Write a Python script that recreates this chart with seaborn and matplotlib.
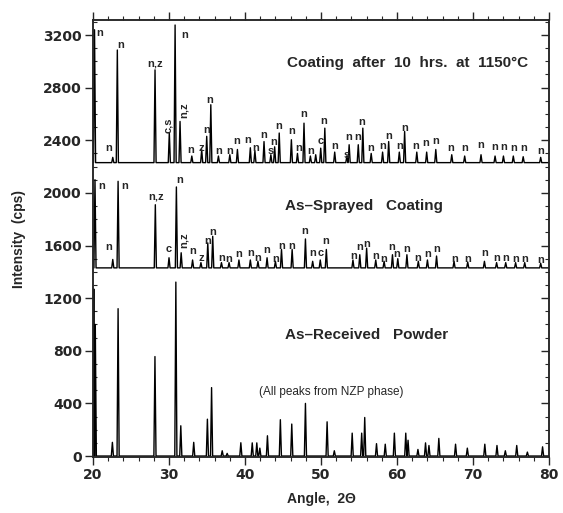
import matplotlib

matplotlib.use("Agg")

import matplotlib.pyplot as plt
import numpy as np
import pandas as pd
import seaborn as sns
from matplotlib.ticker import MultipleLocator

# --- peak tables (angle in deg 2-theta, height in cps) ---
coat_base = 2230
coat_pos = [20.2, 22.6, 23.2, 28.16, 30.04, 30.8, 31.45, 33.0, 34.3, 34.96, 35.5,
            36.5, 38.0, 39.0, 40.7, 41.3, 42.5, 43.4, 43.9, 44.5, 46.1, 46.9,
            47.76, 48.6, 49.3, 49.96, 50.5, 51.8, 53.4, 53.7, 54.9, 55.5, 56.6,
            58.1, 58.9, 60.3, 61.0, 62.6, 63.9, 65.1, 67.2, 68.9, 71.05, 72.9,
            74.0, 75.3, 76.6, 78.9]
coat_h = [1010, 40, 856, 705, 227, 1046, 313, 50, 98, 200, 440,
          50, 60, 100, 113, 90, 160, 60, 120, 225, 174, 70,
          300, 50, 60, 110, 262, 80, 50, 136, 136, 262, 70,
          80, 160, 80, 237, 80, 80, 100, 60, 50, 60, 50,
          50, 50, 45, 40]

spray_base = 1430
spray_pos = [20.26, 22.6, 23.3, 28.2, 30.0, 30.97, 31.6, 33.1, 34.2, 35.1, 35.75,
             36.9, 37.9, 39.2, 40.7, 41.7, 42.9, 44.0, 44.8, 46.2, 47.95, 48.9,
             49.9, 50.7, 54.2, 55.1, 56.0, 57.2, 58.3, 59.4, 60.1, 61.3, 62.8,
             64.0, 65.2, 67.5, 69.3, 71.5, 73.1, 74.3, 75.6, 76.8, 78.9]
spray_h = [670, 64, 658, 480, 77, 615, 115, 60, 40, 190, 240,
           40, 40, 60, 60, 50, 77, 50, 140, 140, 220, 50,
           60, 140, 60, 100, 150, 60, 50, 100, 70, 100, 50,
           60, 90, 50, 45, 50, 40, 40, 40, 40, 35]

powd_base = 0
powd_pos = [20.1, 20.3, 22.55, 23.3, 28.15, 30.9, 31.55, 33.25, 35.05, 35.6,
            37.0, 37.65, 39.45, 40.95, 41.55, 41.95, 42.95, 44.65, 46.15, 47.95,
            50.8, 51.75, 54.1, 55.35, 55.75, 57.3, 58.45, 59.65, 61.15, 61.45,
            62.75, 63.75, 64.2, 65.5, 67.7, 69.25, 71.55, 73.15, 74.25, 75.75,
            77.15, 79.15]
powd_h = [1270, 1000, 104, 1120, 756, 1322, 230, 104, 280, 520,
          40, 20, 101, 100, 100, 60, 154, 276, 243, 400,
          260, 40, 174, 174, 293, 94, 90, 174, 174, 120,
          50, 100, 80, 134, 90, 60, 90, 80, 40, 80,
          30, 70]

# phase labels (angle, cps, text, rotation)
coat_lbl_x = [20.9, 22.0, 23.7, 28.2, 29.9, 32.0, 32.0, 32.9, 34.2, 35.0, 35.4,
              36.5, 38.0, 38.9, 40.4, 41.4, 42.5, 43.4, 43.8, 44.4, 46.1, 47.0,
              47.7, 48.7, 49.96, 50.4, 51.75, 53.4, 53.6, 54.8, 55.4, 56.6, 58.1,
              58.9, 60.3, 61.0, 62.5, 63.8, 65.1, 67.1, 68.9, 71.05, 72.8, 74.0,
              75.3, 76.6, 78.9]
coat_lbl_y = [3213, 2341, 3124, 2985, 2517, 3200, 2631, 2328, 2341, 2480, 2707,
              2320, 2320, 2391, 2404, 2341, 2442, 2318, 2383, 2505, 2467, 2341,
              2599, 2318, 2391, 2543, 2360, 2290, 2421, 2421, 2537, 2341, 2360,
              2430, 2355, 2492, 2355, 2380, 2398, 2341, 2341, 2366, 2350, 2350,
              2341, 2341, 2318]
coat_lbl_txt = ["n", "n", "n", "n,z", "c,s", "n", "n,z", "n", "z", "n", "n",
                "n", "n", "n", "n", "n", "n", "s", "n", "n", "n", "n",
                "n", "n", "c", "n", "n", "s", "n", "n", "n", "n", "n",
                "n", "n", "n", "n", "n", "n", "n", "n", "n", "n", "n",
                "n", "n", "n"]
coat_lbl_rot = [0] * len(coat_lbl_txt)
coat_lbl_rot[4] = 90
coat_lbl_rot[6] = 90

spray_lbl_x = [21.2, 22.1, 24.2, 28.25, 30.0, 31.45, 31.9, 33.1, 34.2, 35.1, 35.75,
               36.9, 37.9, 39.15, 40.7, 41.7, 42.9, 44.0, 44.8, 46.2, 47.9, 48.9,
               49.9, 50.65, 54.25, 55.05, 56.0, 57.2, 58.3, 59.3, 59.96, 61.3,
               62.7, 64.0, 65.2, 67.55, 69.3, 71.5, 73.1, 74.3, 75.6, 76.8, 78.9]
spray_lbl_y = [2050, 1590, 2050, 1969, 1575, 2095, 1640, 1557, 1507, 1633, 1701,
               1507, 1500, 1532, 1545, 1507, 1565, 1494, 1600, 1600, 1709, 1540,
               1540, 1633, 1519, 1590, 1615, 1519, 1500, 1590, 1532, 1575,
               1507, 1532, 1575, 1500, 1500, 1540, 1507, 1507, 1500, 1500, 1490]
spray_lbl_txt = ["n", "n", "n", "n,z", "c", "n", "n,z", "n", "z", "n", "n",
                 "n", "n", "n", "n", "n", "n", "n", "n", "n", "n", "n",
                 "c", "n", "n", "n", "n", "n", "n", "n", "n", "n",
                 "n", "n", "n", "n", "n", "n", "n", "n", "n", "n", "n"]
spray_lbl_rot = [0] * len(spray_lbl_txt)
spray_lbl_rot[6] = 90

PEAK_HALF_WIDTH = 0.14


def pattern_frame(name, base, pos, heights):
    # triangle-shaped spikes on a flat baseline
    xs, ys = [20.0], [base]
    for p, h in zip(pos, heights):
        xs += [p - PEAK_HALF_WIDTH, p, p + PEAK_HALF_WIDTH]
        ys += [base, base + h, base]
    xs.append(80.0)
    ys.append(base)
    return pd.DataFrame({"angle": xs, "intensity": ys, "pattern": name})


df = pd.concat([
    pattern_frame("coating", coat_base, coat_pos, coat_h),
    pattern_frame("sprayed", spray_base, spray_pos, spray_h),
    pattern_frame("powder", powd_base, powd_pos, powd_h),
], ignore_index=True)

sns.set_style("ticks")
plt.rcParams["font.family"] = ["Liberation Sans", "DejaVu Sans"]

fig = plt.figure(figsize=(5.63, 5.13), dpi=100)
ax = fig.add_axes([0.1652, 0.109, 0.81, 0.852])

for name, sub in df.groupby("pattern", sort=False):
    sns.lineplot(data=sub, x="angle", y="intensity", color="black",
                 linewidth=1.0, estimator=None, sort=True, ax=ax)

for xs, ys, ts, rs in [(coat_lbl_x, coat_lbl_y, coat_lbl_txt, coat_lbl_rot),
                       (spray_lbl_x, spray_lbl_y, spray_lbl_txt, spray_lbl_rot)]:
    for x, y, t, r in zip(xs, ys, ts, rs):
        ax.text(x, y, t, ha="center", va="center", rotation=r,
                fontsize=8, fontweight="bold")

ax.text(61.4, 2990, "Coating  after  10  hrs.  at  1150°C", ha="center",
        va="center", fontsize=11, fontweight="bold")
ax.text(55.7, 1900, "As\u2013Sprayed   Coating", ha="center", va="center",
        fontsize=11, fontweight="bold")
ax.text(56.0, 920, "As\u2013Received   Powder", ha="center", va="center",
        fontsize=11, fontweight="bold")
ax.text(51.3, 490, "(All peaks from NZP phase)", ha="center", va="center",
        fontsize=8.5)

ax.set_xlim(20, 80)
ax.set_ylim(-8, 3314)
ax.xaxis.set_major_locator(MultipleLocator(10))
ax.xaxis.set_minor_locator(MultipleLocator(2))
ax.yaxis.set_major_locator(MultipleLocator(400))
ax.yaxis.set_minor_locator(MultipleLocator(100))

ax.tick_params(axis="x", which="major", direction="out", length=6, width=1,
               top=True, labelsize=10, pad=2)
ax.tick_params(axis="x", which="minor", direction="out", length=3, width=0.8,
               top=True)
ax.tick_params(axis="y", which="major", direction="out", length=6, width=1,
               labelsize=10, pad=2)
ax.tick_params(axis="y", which="minor", direction="in", length=3, width=0.8)
for lab in ax.get_xticklabels() + ax.get_yticklabels():
    lab.set_fontweight("bold")
    lab.set_family("DejaVu Sans")

# right-hand ticks point inward
axr = ax.twinx()
axr.set_ylim(ax.get_ylim())
axr.yaxis.set_major_locator(MultipleLocator(400))
axr.yaxis.set_minor_locator(MultipleLocator(100))
axr.tick_params(axis="y", which="major", direction="in", length=6, width=1,
                labelright=False)
axr.tick_params(axis="y", which="minor", direction="in", length=3, width=0.8)

for spine in list(ax.spines.values()) + list(axr.spines.values()):
    spine.set_linewidth(1.1)
    spine.set_visible(True)

ax.set_xlabel("Angle,  2\u0398", fontsize=10, fontweight="bold", labelpad=7)
ax.set_ylabel("Intensity  (cps)", fontsize=10, fontweight="bold", labelpad=12)

fig.savefig("out.png", dpi=100)
plt.close(fig)
